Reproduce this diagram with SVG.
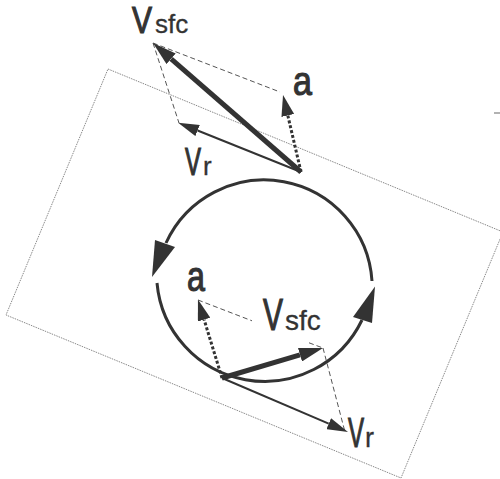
<svg xmlns="http://www.w3.org/2000/svg" width="500" height="479" viewBox="0 0 500 479">
  <style>
    .frame { fill: none; stroke: #8a8a8a; stroke-width: 1; stroke-dasharray: 1.5 1; }
    .wheel { fill: none; stroke: #333; stroke-width: 3; }
    .head { fill: #333; stroke: none; }
    .vsfc { stroke: #333; stroke-width: 5; fill: none; }
    .vr { stroke: #333; stroke-width: 2; fill: none; }
    .acc { stroke: #333; stroke-width: 3; stroke-dasharray: 3 2; fill: none; }
    .guide { stroke: #555; stroke-width: 1; stroke-dasharray: 5 3; fill: none; }
    .lbl { font-family: "Liberation Sans", Arial, sans-serif; fill: #333; }
    .big { stroke: #333; stroke-width: 1.2; }
    .sub { stroke: #333; stroke-width: 0.3; }
  </style>
  <defs>
    <marker id="mThick" viewBox="0 -7 24 14" refX="0" refY="0" markerWidth="24" markerHeight="14" markerUnits="userSpaceOnUse" orient="auto">
      <path d="M0,-7 L24,0 L0,7 z" fill="#333"/>
    </marker>
    <marker id="mThin" viewBox="0 -6 21 12" refX="0" refY="0" markerWidth="21" markerHeight="12" markerUnits="userSpaceOnUse" orient="auto">
      <path d="M0,-6 L21,0 L0,6 z" fill="#333"/>
    </marker>
    <marker id="mAcc" viewBox="0 -6.5 21 13" refX="0" refY="0" markerWidth="21" markerHeight="13" markerUnits="userSpaceOnUse" orient="auto">
      <path d="M0,-6.5 L21,0 L0,6.5 z" fill="#333"/>
    </marker>
  </defs>

  <rect width="500" height="479" fill="#ffffff"/>

  <!-- rotated frame (dotted) -->
  <polygon class="frame" points="108,69 503,232 401,478 6,315"/>
  <line x1="494" y1="113" x2="500" y2="113" stroke="#999" stroke-width="1.5"/>

  <!-- wheel -->
  <g id="wheel">
    <path class="wheel" d="M372,281 A108,108 0 0 0 166,243"/>
    <path class="wheel" d="M157,283 A108,108 0 0 0 362,320"/>
    <polygon class="head" points="155,240 175,247 152,277"/>
    <polygon class="head" points="375,286.5 353,317 372,323"/>
  </g>

  <g id="connectors">
    <!-- top parallelogram guides -->
    <line class="guide" x1="153" y1="43" x2="280" y2="92"/>
    <line class="guide" x1="153" y1="43" x2="179" y2="123"/>
    <!-- top vectors -->
    <line class="vsfc" x1="301" y1="172" x2="171.1" y2="58.8" marker-end="url(#mThick)"/>
    <line class="vr" x1="301" y1="172" x2="197.6" y2="130.5" marker-end="url(#mThin)"/>
    <line class="acc" x1="301" y1="172" x2="287.8" y2="115.4" marker-end="url(#mAcc)"/>

    <!-- bottom parallelogram guides -->
    <line class="guide" x1="198" y1="300" x2="252" y2="320.8"/>
    <line class="guide" x1="309" y1="342.8" x2="323" y2="348"/>
    <line class="guide" x1="323" y1="348" x2="345" y2="432"/>
    <!-- bottom vectors -->
    <line class="vsfc" x1="222" y1="378" x2="300" y2="354.8" marker-end="url(#mThick)"/>
    <line class="vr" x1="222" y1="378" x2="328.7" y2="423.7" marker-end="url(#mThin)"/>
    <line class="acc" x1="222" y1="378" x2="204.1" y2="319.6" marker-end="url(#mAcc)"/>
  </g>

  <!-- labels -->
  <g id="label-vsfc-top">
    <text class="lbl big" transform="translate(132,33) scale(0.81,1)" font-size="37">V</text>
    <text class="lbl sub" x="155" y="33" font-size="26">sfc</text>
  </g>
  <g id="label-a-top">
    <text class="lbl big" transform="translate(293,95) scale(0.83,1)" font-size="41">a</text>
  </g>
  <g id="label-vr-top">
    <text class="lbl big" transform="translate(185,175) scale(0.63,1)" font-size="38">V</text>
    <text class="lbl sub" x="203" y="175" font-size="26">r</text>
  </g>
  <g id="label-a-bottom">
    <text class="lbl big" transform="translate(187,291) scale(0.75,1)" font-size="43">a</text>
  </g>
  <g id="label-vsfc-bottom">
    <text class="lbl big" transform="translate(263,330) scale(0.68,1)" font-size="44">V</text>
    <text class="lbl sub" x="285" y="330" font-size="28">sfc</text>
  </g>
  <g id="label-vr-bottom">
    <text class="lbl big" transform="translate(348,447) scale(0.56,1)" font-size="43">V</text>
    <text class="lbl sub" x="365" y="447" font-size="27">r</text>
  </g>
</svg>
